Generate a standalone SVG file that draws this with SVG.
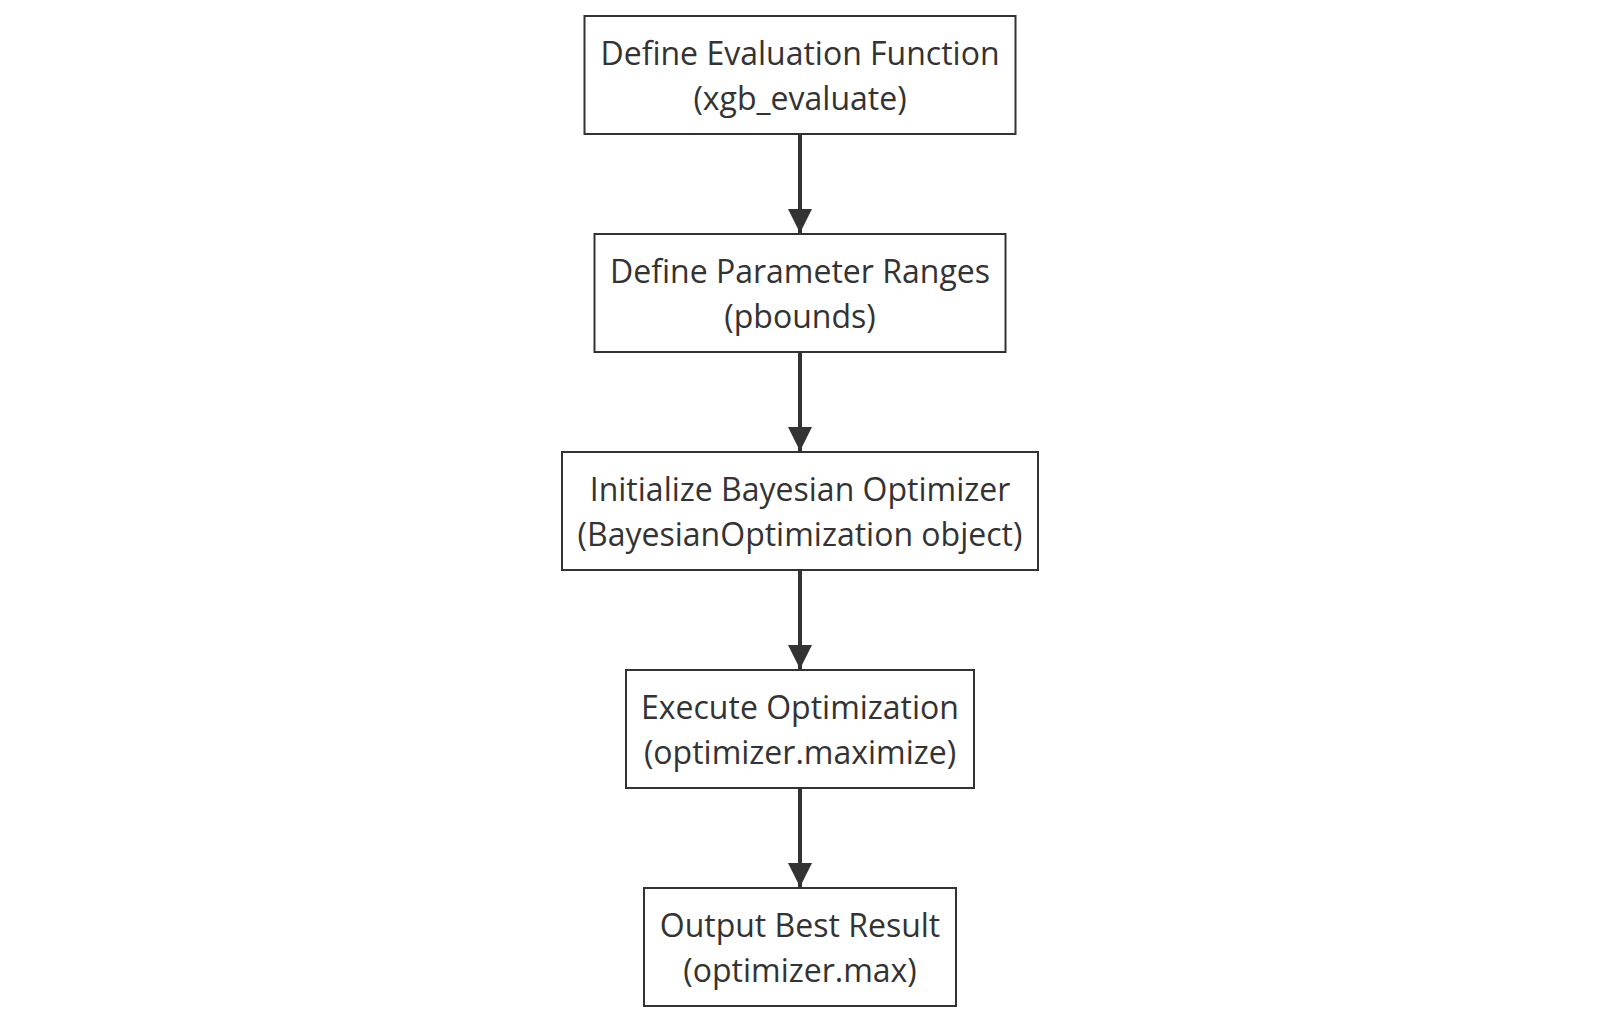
<svg xmlns="http://www.w3.org/2000/svg" width="1600" height="1022" viewBox="0 0 1600 1022">
<defs>
<style>
.node rect{fill:#ffffff;stroke:#333333;stroke-width:2}
.node text{font-family:"Open Sans","Noto Sans","DejaVu Sans",sans-serif;font-size:32px;fill:#333333;text-anchor:middle}
.edges line{stroke:#333333;stroke-width:4}
</style>
<marker id="arrowhead" viewBox="0 0 24 24" refX="24" refY="12" markerWidth="24" markerHeight="24" markerUnits="userSpaceOnUse" orient="auto">
<path d="M0,0 L24,12 L0,24 z" fill="#333333"/>
</marker>
</defs>
<rect width="1600" height="1022" fill="#ffffff"/>
<g class="edges">
<line x1="800" y1="135" x2="800" y2="233" marker-end="url(#arrowhead)"/>
<line x1="800" y1="353" x2="800" y2="451" marker-end="url(#arrowhead)"/>
<line x1="800" y1="571" x2="800" y2="669" marker-end="url(#arrowhead)"/>
<line x1="800" y1="789" x2="800" y2="887" marker-end="url(#arrowhead)"/>
</g>
<g id="n1" class="node">
<rect x="584.5" y="16" width="431" height="118"/>
<text x="800" y="65">Define Evaluation Function</text>
<text x="800" y="110">(xgb_evaluate)</text>
</g>
<g id="n2" class="node">
<rect x="594.5" y="234" width="411" height="118"/>
<text x="800" y="283">Define Parameter Ranges</text>
<text x="800" y="328">(pbounds)</text>
</g>
<g id="n3" class="node">
<rect x="562" y="452" width="476" height="118"/>
<text x="800" y="501">Initialize Bayesian Optimizer</text>
<text x="800" y="546">(BayesianOptimization object)</text>
</g>
<g id="n4" class="node">
<rect x="626" y="670" width="348" height="118"/>
<text x="800" y="719">Execute Optimization</text>
<text x="800" y="764">(optimizer.maximize)</text>
</g>
<g id="n5" class="node">
<rect x="644" y="888" width="312" height="118"/>
<text x="800" y="937">Output Best Result</text>
<text x="800" y="982">(optimizer.max)</text>
</g>
</svg>
